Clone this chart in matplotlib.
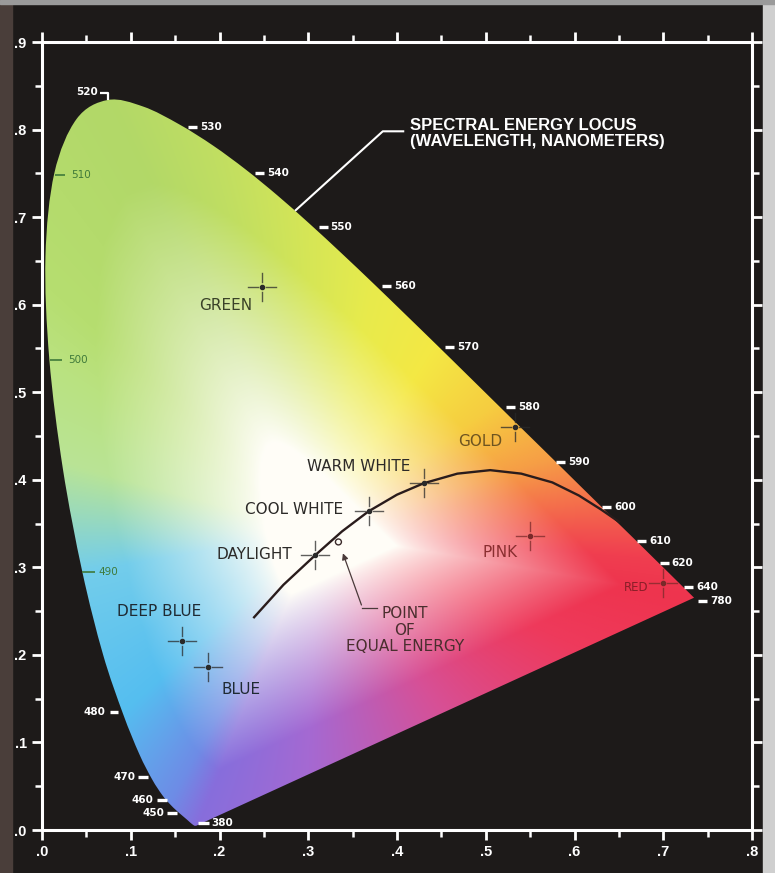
import numpy as np
import matplotlib.pyplot as plt
from matplotlib.patches import PathPatch, Rectangle, Circle
from matplotlib.path import Path

# CIE 1931 spectral locus (chromaticity x, y) by wavelength in nm
wavelength = [380, 385, 390, 395, 400, 405, 410, 415, 420, 425, 430, 435, 440,
              445, 450, 455, 460, 465, 470, 475, 480, 485, 490, 495, 500, 505,
              510, 515, 520, 525, 530, 535, 540, 545, 550, 555, 560, 565, 570,
              575, 580, 585, 590, 595, 600, 605, 610, 615, 620, 625, 630, 640,
              650, 660, 680, 700, 780]
locus_x = [0.1741, 0.1740, 0.1738, 0.1736, 0.1733, 0.1730, 0.1726, 0.1721,
           0.1714, 0.1703, 0.1689, 0.1669, 0.1644, 0.1611, 0.1566, 0.1510,
           0.1440, 0.1355, 0.1241, 0.1096, 0.0913, 0.0687, 0.0454, 0.0235,
           0.0082, 0.0039, 0.0139, 0.0389, 0.0743, 0.1142, 0.1547, 0.1929,
           0.2296, 0.2658, 0.3016, 0.3373, 0.3731, 0.4087, 0.4441, 0.4788,
           0.5125, 0.5448, 0.5752, 0.6029, 0.6270, 0.6482, 0.6658, 0.6801,
           0.6915, 0.7006, 0.7079, 0.7190, 0.7260, 0.7300, 0.7334, 0.7347,
           0.7347]
locus_y = [0.0050, 0.0050, 0.0049, 0.0049, 0.0048, 0.0048, 0.0048, 0.0048,
           0.0051, 0.0058, 0.0069, 0.0086, 0.0109, 0.0138, 0.0177, 0.0227,
           0.0297, 0.0399, 0.0578, 0.0868, 0.1327, 0.2007, 0.2950, 0.4127,
           0.5384, 0.6548, 0.7502, 0.8120, 0.8338, 0.8262, 0.8059, 0.7816,
           0.7543, 0.7243, 0.6923, 0.6589, 0.6245, 0.5896, 0.5547, 0.5202,
           0.4866, 0.4544, 0.4242, 0.3965, 0.3725, 0.3514, 0.3340, 0.3197,
           0.3083, 0.2993, 0.2920, 0.2809, 0.2740, 0.2700, 0.2666, 0.2653,
           0.2653]

labelled_nm = [380, 450, 460, 470, 480, 490, 500, 510, 520, 530, 540, 550,
               560, 570, 580, 590, 600, 610, 620, 640, 780]

# black body curve drawn through the white region
planck_x = [0.239, 0.272, 0.308, 0.338, 0.368, 0.400, 0.430, 0.468, 0.505,
            0.540, 0.575, 0.605, 0.630, 0.650]
planck_y = [0.243, 0.280, 0.314, 0.341, 0.364, 0.383, 0.396, 0.407, 0.411,
            0.407, 0.397, 0.382, 0.366, 0.352]

sources = ['GREEN', 'GOLD', 'WARM WHITE', 'COOL WHITE', 'DAYLIGHT', 'PINK',
           'RED', 'DEEP BLUE', 'BLUE']
source_x = [0.248, 0.533, 0.430, 0.368, 0.308, 0.550, 0.700, 0.158, 0.187]
source_y = [0.620, 0.460, 0.396, 0.364, 0.314, 0.336, 0.282, 0.216, 0.186]

equal_x, equal_y = 0.334, 0.329

# pixel -> data helpers (axes span 710 x 788 px)
PX = 0.8 / 710
PY = 0.9 / 788

BG = '#1d1a19'
fig = plt.figure(figsize=(7.75, 8.73), dpi=100, facecolor=BG)
fig.patches.append(Rectangle((0, 0), 12 / 775, 1, transform=fig.transFigure,
                             color='#4a3e3a', zorder=0))
fig.patches.append(Rectangle((763 / 775, 0), 12 / 775, 1, transform=fig.transFigure,
                             color='#cfcfcf', zorder=0))
fig.patches.append(Rectangle((0, 869 / 873), 1, 4 / 873, transform=fig.transFigure,
                             color='#9a9a9a', zorder=0))

ax = fig.add_axes([42 / 775, 43 / 873, 710 / 775, 788 / 873])
ax.set_facecolor(BG)
ax.set_xlim(0, 0.8)
ax.set_ylim(0, 0.9)

# ---- coloured fill of the locus ----
lx = np.array(locus_x)
ly = np.array(locus_y)
wx, wy = 0.31, 0.34
# closed boundary incl. purple line, used for the radial distance
t = np.linspace(0, 1, 60)
bx = np.concatenate([lx, lx[-1] + (lx[0] - lx[-1]) * t])
by = np.concatenate([ly, ly[-1] + (ly[0] - ly[-1]) * t])
b_ang = np.arctan2(by - wy, bx - wx)
b_rad = np.hypot(bx - wx, by - wy)
order = np.argsort(b_ang)
b_ang, b_rad = b_ang[order], b_rad[order]

edge_pts = [(0.074, 0.834, (178, 216, 104)), (0.190, 0.780, (192, 222, 98)),
            (0.300, 0.690, (214, 230, 86)), (0.373, 0.624, (232, 235, 76)),
            (0.444, 0.555, (244, 232, 68)), (0.512, 0.487, (246, 205, 64)),
            (0.575, 0.424, (246, 158, 70)), (0.627, 0.372, (244, 108, 76)),
            (0.690, 0.310, (240, 62, 80)), (0.735, 0.265, (238, 52, 78)),
            (0.600, 0.210, (238, 58, 92)), (0.450, 0.135, (215, 80, 150)),
            (0.300, 0.060, (165, 105, 210)), (0.174, 0.005, (135, 110, 220)),
            (0.144, 0.030, (110, 140, 230)), (0.091, 0.133, (85, 190, 240)),
            (0.045, 0.295, (115, 205, 235)), (0.020, 0.420, (185, 228, 150)),
            (0.008, 0.538, (186, 226, 128)), (0.005, 0.620, (182, 222, 112))]
e_ang = np.array([np.arctan2(p[1] - wy, p[0] - wx) for p in edge_pts])
e_col = np.array([p[2] for p in edge_pts], dtype=float) / 255
o = np.argsort(e_ang)
e_ang, e_col = e_ang[o], e_col[o]

gx, gy = np.meshgrid(np.linspace(0, 0.76, 500), np.linspace(0, 0.86, 560))
ang = np.arctan2(gy - wy, gx - wx)
rad = np.hypot(gx - wx, gy - wy)
r_edge = np.interp(ang, b_ang, b_rad, period=2 * np.pi)
s = rad / r_edge
f = np.clip((s - 0.21) / 0.6, 0, 1) ** 0.85
img = np.ones(gx.shape + (3,))
white = np.array([1.0, 0.995, 0.97])
for c in range(3):
    edge_c = np.interp(ang, e_ang, e_col[:, c], period=2 * np.pi)
    img[..., c] = white[c] * (1 - f) + edge_c * f

# smooth outline: Catmull-Rom segments turned into cubic Beziers
pts = np.column_stack([lx[:-1], ly[:-1]])
ext = np.vstack([pts[0], pts, pts[-1]])
verts = [pts[0]]
codes = [Path.MOVETO]
for k in range(1, len(ext) - 2):
    p0, p1, p2, p3 = ext[k - 1], ext[k], ext[k + 1], ext[k + 2]
    verts += [p1 + (p2 - p0) / 6, p2 - (p3 - p1) / 6, p2]
    codes += [Path.CURVE4] * 3
verts += [pts[0], pts[0]]
codes += [Path.LINETO, Path.CLOSEPOLY]
shape = PathPatch(Path(verts, codes), facecolor='none', edgecolor='none')
ax.add_patch(shape)
im = ax.imshow(img, extent=(0, 0.76, 0, 0.86), origin='lower',
               interpolation='bilinear', aspect='auto', zorder=1)
im.set_clip_path(shape)

# ---- wavelength ticks along the locus ----
nm_style = {380: (1, 12, 15, 3), 450: (-14, -4, -17, 2), 460: (-13, -3, -16, 4),
            470: (-14, -4, -17, 2), 480: (-13, -5, -18, 2), 490: (0, 13, 16, 0),
            500: (1, 13, 19, -1), 510: (1, 11, 17, -2)}
for nm in (530, 540, 550, 560, 570, 580):
    nm_style[nm] = (9, 18, 21, -3)
for nm in (590, 600, 610, 620, 640, 780):
    nm_style[nm] = (4, 13, 16, -3)

for nm in labelled_nm:
    i = wavelength.index(nm)
    x0, y0 = locus_x[i], locus_y[i]
    inside = nm in (490, 500, 510)
    col = '#3f7a3a' if inside else 'white'
    if nm == 520:
        ax.plot([x0, x0, x0 - 8 * PX], [y0, y0 + 7 * PY, y0 + 7 * PY],
                color='white', lw=1.6, zorder=4, solid_capstyle='butt')
        ax.text(x0 - 10 * PX, y0 + 8 * PY, str(nm), color='white', fontsize=7.5,
                fontweight='bold', ha='right', va='center', zorder=4)
        continue
    a, b, c, dy = nm_style[nm]
    yy = y0 + dy * PY
    ax.plot([x0 + a * PX, x0 + b * PX], [yy, yy], color=col,
            lw=1.2 if inside else 2.4, zorder=4, solid_capstyle='butt')
    ax.text(x0 + c * PX, yy, str(nm), color=col, fontsize=7.5,
            fontweight='normal' if inside else 'bold',
            ha='left' if c > 0 else 'right', va='center', zorder=4)

# ---- black body curve ----
ax.plot(planck_x, planck_y, color='#2a1c1c', lw=1.7, zorder=3)


# ---- source crosshairs ----
def crosshair(x, y, col='#2a2a2a'):
    for sx in (-1, 1):
        ax.plot([x + sx * 4 * PX, x + sx * 14 * PX], [y, y], color=col,
                lw=1.0, alpha=0.75, zorder=5)
        ax.plot([x, x], [y + sx * 5 * PY, y + sx * 14 * PY], color=col,
                lw=1.0, alpha=0.75, zorder=5)
    ax.plot(x, y, 'o', ms=3, color=col, zorder=5)


for name, x, y in zip(sources, source_x, source_y):
    col = '#7a2a2a' if name in ('PINK', 'RED') else '#2a2a2a'
    crosshair(x, y, col)

label_pos = {
    'GREEN': (0.2366, 0.5996, 'right', '#3a4228', 11),
    'GOLD': (0.519, 0.444, 'right', '#6e5420', 11),
    'WARM WHITE': (0.4147, 0.4146, 'right', '#2c2a28', 11),
    'COOL WHITE': (0.339, 0.3655, 'right', '#2c2a28', 11),
    'DAYLIGHT': (0.2817, 0.3152, 'right', '#2c2a28', 11),
    'PINK': (0.536, 0.3175, 'right', '#8a2e30', 11),
    'RED': (0.669, 0.2775, 'center', '#8a1e28', 8.5),
    'DEEP BLUE': (0.0845, 0.250, 'left', '#1f2a33', 11),
    'BLUE': (0.2028, 0.160, 'left', '#1f2a33', 11),
}
for name in sources:
    x, y, ha, col, fs = label_pos[name]
    ax.text(x, y, name, color=col, fontsize=fs, ha=ha, va='center',
            family='DejaVu Sans', zorder=6)

# ---- point of equal energy ----
ax.add_patch(Circle((equal_x, equal_y), 3 * PX, facecolor='none',
                    edgecolor='#3a2a2a', lw=1.0, zorder=5))
ax.annotate('', xy=(equal_x + 0.004, equal_y - 0.010),
            xytext=(0.361, 0.254),
            arrowprops=dict(arrowstyle='-|>', color='#4a3a3a', lw=0.9,
                            mutation_scale=9), zorder=5)
ax.plot([0.361, 0.377], [0.254, 0.254], color='#4a3a3a', lw=0.9, zorder=5)
ax.text(0.409, 0.256, 'POINT\nOF\nEQUAL ENERGY', color='#4a2e2e', fontsize=11,
        ha='center', va='top', linespacing=1.15, family='DejaVu Sans',
        zorder=6)

# ---- spectral locus caption ----
ax.plot([0.286, 0.384, 0.407], [0.708, 0.798, 0.798], color='white', lw=1.5,
        zorder=4)
ax.text(0.4147, 0.813, 'SPECTRAL ENERGY LOCUS\n(WAVELENGTH, NANOMETERS)',
        color='white', fontsize=12, fontweight='bold', ha='left', va='top',
        linespacing=1.05, family='Liberation Sans', zorder=6)

# ---- axes frame and ticks ----
for sp in ax.spines.values():
    sp.set_color('white')
    sp.set_linewidth(2.2)
ax.set_xticks(np.arange(0, 0.81, 0.1))
ax.set_yticks(np.arange(0, 0.91, 0.1))
ax.set_xticks(np.arange(0.05, 0.8, 0.1), minor=True)
ax.set_yticks(np.arange(0.05, 0.9, 0.1), minor=True)
ax.set_xticklabels(['.%d' % i for i in range(9)])
ax.set_yticklabels(['.%d' % i for i in range(10)])
ax.tick_params(which='both', direction='out', colors='white', top=True,
               right=True, labeltop=False, labelright=False)
ax.tick_params(which='major', length=7, width=2.0, labelsize=10.5, pad=4)
ax.tick_params(which='minor', length=5, width=1.8)
for lab in ax.get_xticklabels() + ax.get_yticklabels():
    lab.set_fontweight('bold')
    lab.set_family('Liberation Sans')

fig.savefig('out.png', dpi=100, facecolor=BG)
